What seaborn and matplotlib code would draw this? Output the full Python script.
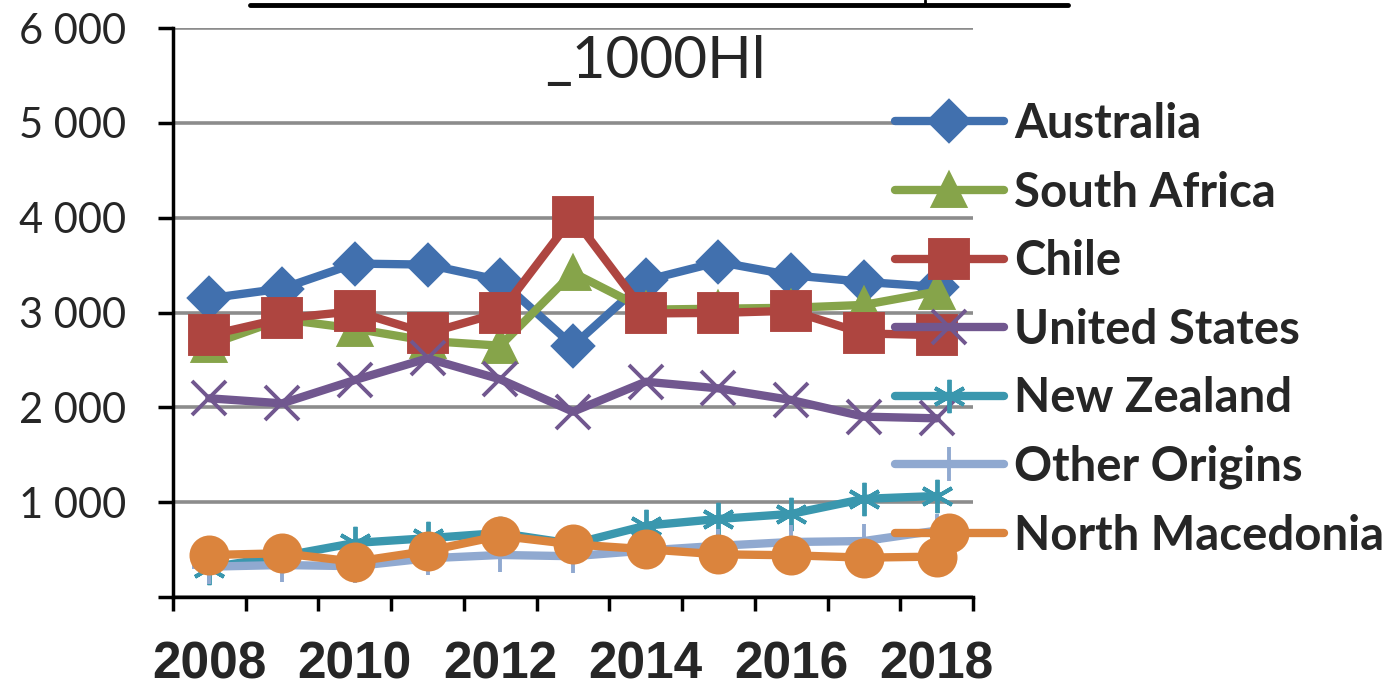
# Excel-style line chart of imports by origin, 2008-2018 (1000 hl)

import numpy as np
import pandas as pd
import matplotlib.pyplot as plt
import seaborn as sns
from matplotlib.lines import Line2D
from matplotlib.ticker import FuncFormatter
from matplotlib.font_manager import FontProperties

years = [2008, 2009, 2010, 2011, 2012, 2013, 2014, 2015, 2016, 2017, 2018]

australia = [3150, 3253, 3516, 3505, 3340, 2650, 3340, 3533, 3393, 3323, 3270]
south_africa = [2660, 2930, 2830, 2700, 2650, 3420, 3030, 3040, 3050, 3080, 3220]
chile = [2761, 2937, 3014, 2779, 3000, 4007, 2990, 2996, 3018, 2779, 2761]
united_states = [2095, 2042, 2288, 2516, 2295, 1954, 2270, 2200, 2077, 1902, 1884]
new_zealand = [310, 430, 570, 620, 675, 560, 752, 823, 876, 1035, 1065]
other_origins = [320, 337, 325, 408, 443, 430, 490, 540, 580, 590, 700]
north_macedonia = [443, 461, 372, 486, 645, 555, 504, 450, 440, 415, 426]

names = ['Australia', 'South Africa', 'Chile', 'United States',
         'New Zealand', 'Other Origins', 'North Macedonia']
values = [australia, south_africa, chile, united_states,
          new_zealand, other_origins, north_macedonia]
colors = ['#4170AE', '#86A44A', '#AE4540', '#71578F',
          '#3A97AE', '#90A9D0', '#DB843D']
markers = ['D', '^', 's', 'x', (6, 2, 0), '+', 'o']
marker_sizes = [20, 23, 27, 25, 24, 24, 26]

sns.set_style('white')
plt.rcParams['font.family'] = ['Lato', 'DejaVu Sans']

fig, ax = plt.subplots(figsize=(13.85, 6.94), dpi=100)
fig.subplots_adjust(left=173 / 1385, right=973 / 1385,
                    bottom=1 - 597 / 694, top=1 - 28 / 694)

for name, vals, col, mk, ms in zip(names, values, colors, markers, marker_sizes):
    sns.lineplot(x=years, y=vals, ax=ax, color=col, linewidth=6,
                 marker=mk, markersize=ms, markeredgecolor=col,
                 markerfacecolor=col, markeredgewidth=2.8,
                 label=name, solid_capstyle='round')

ax.set_xlim(2007.5, 2018.5)
ax.set_ylim(0, 6000)
ax.set_yticks(range(0, 6001, 1000))
ax.yaxis.set_major_formatter(FuncFormatter(
    lambda v, p: '' if v == 0 else f'{int(v):,}'.replace(',', ' ')))
ax.set_xticks(years[::2])
ax.set_xticks(np.arange(2007.5, 2018.6, 1), minor=True)

ax.yaxis.grid(True, color='#8c8c8c', linewidth=2.6)
ax.xaxis.grid(False)
ax.set_axisbelow(True)
for side in ['top', 'right']:
    ax.spines[side].set_visible(False)
for side in ['left', 'bottom']:
    ax.spines[side].set_color('black')
    ax.spines[side].set_linewidth(2.5)

ax.tick_params(axis='y', length=11, width=2.5, color='black', pad=23,
               left=True)
ax.tick_params(axis='x', which='major', length=0, pad=31, bottom=True)
ax.tick_params(axis='x', which='minor', length=10, width=2.5,
               color='black', bottom=True)

for lbl in ax.get_yticklabels():
    lbl.set_fontproperties(FontProperties(family='Lato', size=30))
for lbl in ax.get_xticklabels():
    lbl.set_fontproperties(FontProperties(family='Liberation Sans',
                                          weight='bold', size=37))
ax.set_xlabel('')
ax.set_ylabel('')

ax.legend(loc='upper left', bbox_to_anchor=(895 / 1385, 1 - 102 / 694),
          bbox_transform=fig.transFigure, frameon=False,
          prop=FontProperties(family='Lato', weight='bold', size=34),
          handlelength=2.3, handletextpad=0.22, labelspacing=0.52,
          borderpad=0, borderaxespad=0, numpoints=1)

fig.text(655 / 1385, 1 - 61 / 694, '_1000Hl', ha='center', va='center',
         fontfamily='Lato', fontsize=42)

# clipped title underline at the very top
fig.add_artist(Line2D([250 / 1385, 1068 / 1385], [1 - 5 / 694, 1 - 5 / 694],
                      transform=fig.transFigure, color='black', linewidth=3.5))
fig.add_artist(Line2D([925 / 1385, 925 / 1385], [1 - 5 / 694, 1.0],
                      transform=fig.transFigure, color='black', linewidth=2))

plt.savefig('out.png', dpi=100)
plt.close()
